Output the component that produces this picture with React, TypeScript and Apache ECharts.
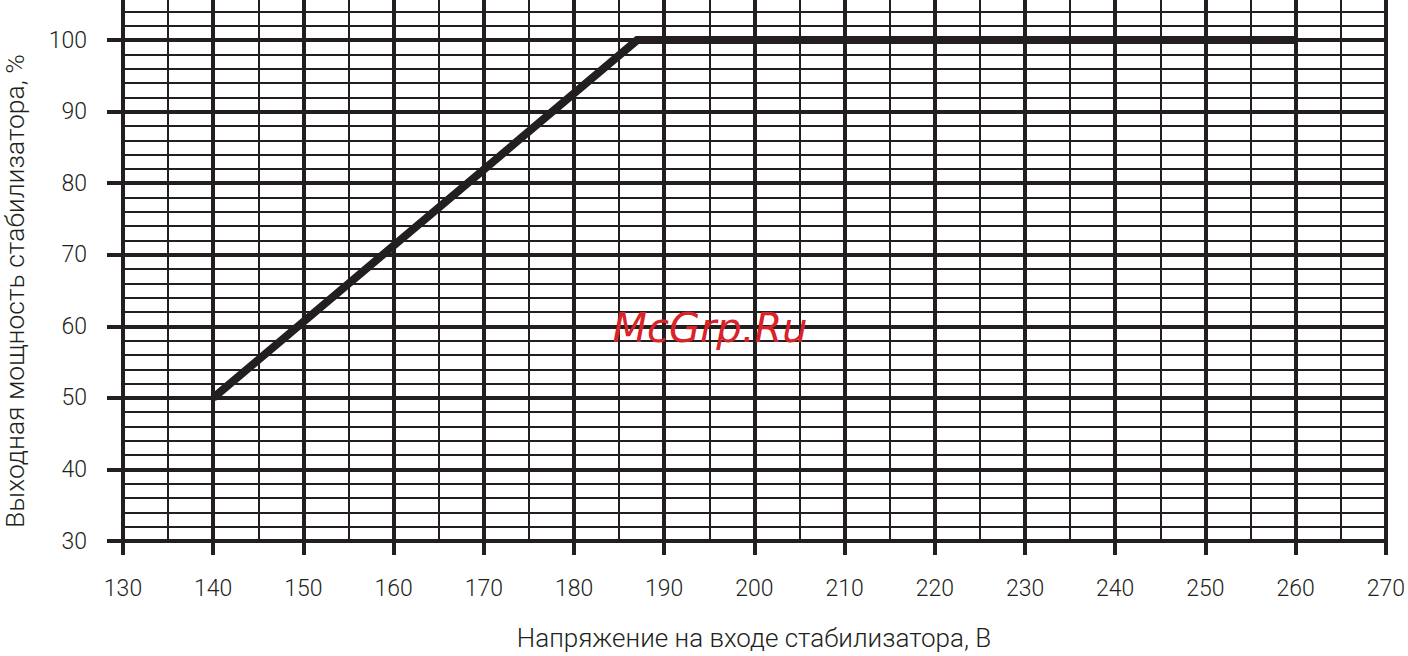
import React, { useEffect, useRef } from "react";
import * as echarts from "echarts";

// Data
const voltage: number[] = [140, 187, 260];
const powerPct: number[] = [50, 100, 100];
const xTicks = { min: 130, max: 270, major: 10, minor: 5 };
const yTicks = { min: 30, max: 105.6, major: 10, minor: 2 };
const xTitle = "Напряжение на входе стабилизатора, В";
const yTitle = "Выходная мощность стабилизатора, %";
const watermark = "McGrp.Ru";

const INK = "#231f20";
const FONT = "Roboto, 'DejaVu Sans', sans-serif";

export default function App() {
  const ref = useRef<HTMLDivElement>(null);
  useEffect(() => {
    if (!ref.current) return;
    const chart = echarts.init(ref.current, undefined, { renderer: "svg" });
    const seriesData = voltage.map((v, i) => [v, powerPct[i]]);
    chart.setOption({
      animation: false,
      backgroundColor: "#ffffff",
      grid: { left: 123, right: 22, top: 0, bottom: 115, containLabel: false },
      xAxis: [
        {
          type: "value",
          min: xTicks.min,
          max: xTicks.max,
          interval: xTicks.major,
          position: "bottom",
          z: 2,
          axisLine: { show: false },
          axisTick: { show: true, length: 14, lineStyle: { color: INK, width: 4 } },
          axisLabel: {
            color: INK,
            fontSize: 23,
            fontFamily: FONT,
            fontWeight: 300,
            margin: 36,
          },
          splitLine: { show: true, lineStyle: { color: INK, width: 4 } },
        },
        {
          type: "value",
          min: xTicks.min,
          max: xTicks.max,
          interval: xTicks.minor,
          position: "top",
          z: 1,
          axisLine: { show: false },
          axisTick: { show: false },
          axisLabel: { show: false },
          splitLine: { show: true, lineStyle: { color: INK, width: 2 } },
        },
      ],
      yAxis: [
        {
          type: "value",
          min: yTicks.min,
          max: yTicks.max,
          interval: yTicks.major,
          position: "left",
          z: 2,
          axisLine: { show: false },
          axisTick: { show: true, length: 16, lineStyle: { color: INK, width: 4 } },
          axisLabel: {
            color: INK,
            fontSize: 23,
            fontFamily: FONT,
            fontWeight: 300,
            margin: 36,
            showMaxLabel: false,
            formatter: (v: number) => (v % 10 === 0 ? String(v) : ""),
          },
          splitLine: { show: true, showMaxLine: false, lineStyle: { color: INK, width: 4 } },
        },
        {
          type: "value",
          min: yTicks.min,
          max: yTicks.max,
          interval: yTicks.minor,
          position: "right",
          z: 1,
          axisLine: { show: false },
          axisTick: { show: false },
          axisLabel: { show: false },
          splitLine: { show: true, showMaxLine: false, lineStyle: { color: INK, width: 2 } },
        },
      ],
      series: [
        {
          type: "line",
          xAxisIndex: 0,
          yAxisIndex: 0,
          data: seriesData,
          symbol: "none",
          z: 5,
          lineStyle: { color: INK, width: 8, cap: "butt", join: "miter" },
        },
      ],
      graphic: [
        {
          type: "text",
          x: 14,
          y: 291,
          rotation: Math.PI / 2,
          style: {
            text: yTitle,
            fill: INK,
            font: `300 26.5px ${FONT}`,
            lineHeight: 22,
            align: "center",
            verticalAlign: "middle",
          },
        },
        {
          type: "text",
          x: 754,
          y: 638,
          style: {
            text: xTitle,
            fill: INK,
            font: `300 26px ${FONT}`,
            align: "center",
            verticalAlign: "middle",
          },
        },
        {
          type: "text",
          x: 710,
          y: 328,
          z: 100,
          style: {
            text: watermark,
            fill: "#d8232a",
            font: `oblique 40px 'DejaVu Sans', sans-serif`,
            align: "center",
            verticalAlign: "middle",
          },
        },
      ],
    });
    return () => chart.dispose();
  }, []);
  return (
    <div
      ref={ref}
      style={{ position: "fixed", left: 0, top: 0, width: 1408, height: 656 }}
    />
  );
}
